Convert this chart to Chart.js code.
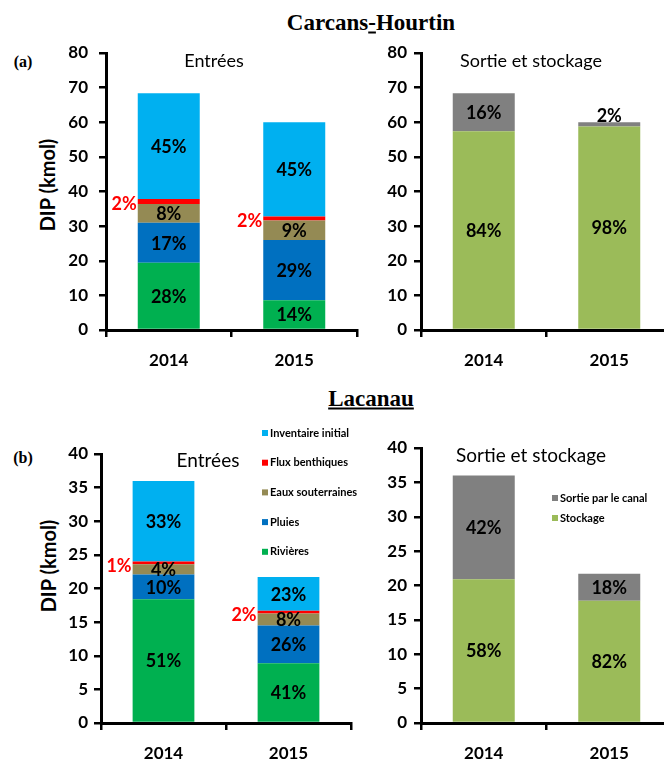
<!DOCTYPE html>
<html lang="fr">
<head>
<meta charset="utf-8">
<title>DIP - Carcans-Hourtin et Lacanau</title>
<script src="https://cdn.jsdelivr.net/npm/chart.js@4.4.1/dist/chart.umd.min.js"></script>
<style>
  html, body { margin: 0; padding: 0; background: #fff; overflow: hidden; }
  #page { position: relative; width: 664px; height: 760px; overflow: hidden; }
  canvas { position: absolute; }
  .lbl { position: absolute; transform: translate(-50%, -50%); white-space: nowrap; color: #000; line-height: 1; }
  .site { font-family: "Liberation Serif", "DejaVu Serif", serif; font-weight: bold; font-size: 23px; }
  .tag { font-family: "Liberation Serif", serif; font-weight: bold; font-size: 16px; }
  .ptitle { font-family: Lato, sans-serif; font-size: 18px; }
  .ytitle { font-family: Lato, sans-serif; font-weight: bold; font-size: 20px;
            transform: translate(-50%, -50%) rotate(-90deg); }
</style>
</head>
<body>
<div id="page">
  <div class="lbl site" style="left:371px; top:22px;">Carcans<u>-</u>Hourtin</div>
  <div class="lbl site" style="left:371px; top:398px;"><u>Lacanau</u></div>
  <div class="lbl tag" style="left:23px; top:62px;">(a)</div>
  <div class="lbl tag" style="left:23px; top:458px;">(b)</div>
  <div class="lbl ytitle" style="left:47px; top:185px;">DIP (kmol)</div>
  <div class="lbl ytitle" style="left:48px; top:566px;">DIP (kmol)</div>

  <canvas id="chIn" width="380" height="350" style="left:0; top:30px;"></canvas>
  <canvas id="chOut" width="370" height="350" style="left:330px; top:30px;"></canvas>
  <canvas id="lcIn" width="380" height="350" style="left:0; top:420px;"></canvas>
  <canvas id="lcOut" width="370" height="350" style="left:330px; top:420px;"></canvas>

  <div class="lbl ptitle" style="left:214px; top:60px;">Entrées</div>
  <div class="lbl ptitle" style="left:531px; top:60px;">Sortie et stockage</div>
  <div class="lbl ptitle" style="left:208px; top:459px; font-size:19px;">Entrées</div>
  <div class="lbl ptitle" style="left:531px; top:454px; font-size:19px;">Sortie et stockage</div>
</div>

<script>
var years = ['2014', '2015'];

// Carcans-Hourtin, entrées (kmol)
var chRivieres = [19.4, 8.6];
var chPluies = [11.6, 17.4];
var chEaux = [5.4, 5.6];
var chFlux = [1.4, 1.2];
var chInventaire = [30.6, 27.2];
// Carcans-Hourtin, sortie et stockage (kmol)
var chStockage = [57.4, 58.8];
var chSortie = [11.0, 1.2];

// Lacanau, entrées (kmol)
var lcRivieres = [18.4, 8.9];
var lcPluies = [3.7, 5.6];
var lcEaux = [1.5, 1.8];
var lcFlux = [0.4, 0.4];
var lcInventaire = [12.0, 5.0];
// Lacanau, sortie et stockage (kmol)
var lcStockage = [20.9, 17.8];
var lcSortie = [15.1, 3.9];

// y axis range / step
var chMax = 80, chStep = 10;
var lcMax = 40, lcStep = 5;

var COLORS = {
    rivieres: '#00b050',
    pluies: '#0070c0',
    eaux: '#948a54',
    flux: '#ff0000',
    inventaire: '#00b0f0',
    stockage: '#9bbb59',
    sortie: '#808080'
};

var FONT = 'Lato, "Open Sans", sans-serif';

// percentage of the column total, written in each segment
var percentLabels = {
    id: 'percentLabels',
    afterDatasetsDraw: function (chart) {
        var ctx = chart.ctx;
        var ds = chart.data.datasets;
        var totals = chart.data.labels.map(function (_, j) {
            return ds.reduce(function (s, d) { return s + d.data[j]; }, 0);
        });
        ctx.save();
        ctx.font = 'bold 18px ' + FONT;
        ds.forEach(function (d, i) {
            chart.getDatasetMeta(i).data.forEach(function (bar, j) {
                var txt = Math.round(d.data[j] / totals[j] * 100) + '%';
                var h = bar.base - bar.y;
                var x = bar.x, y = (bar.y + bar.base) / 2;
                ctx.fillStyle = '#000';
                ctx.textAlign = 'center';
                ctx.textBaseline = 'middle';
                if (d.labelOutside === 'left') {
                    ctx.fillStyle = d.backgroundColor;
                    ctx.textAlign = 'right';
                    x = bar.x - bar.width / 2 - 1;
                    y += 2;
                } else if (d.labelOutside === 'above' && h < 10) {
                    ctx.textBaseline = 'bottom';
                    y = bar.y + 2;
                }
                ctx.fillText(txt, x, y + 1);
            });
        });
        ctx.restore();
    }
};

// small vertical legend, top item = top of the stack
var sideLegend = {
    id: 'sideLegend',
    afterDraw: function (chart, args, opts) {
        var ctx = chart.ctx;
        var ds = chart.data.datasets.slice().reverse();
        ctx.save();
        ctx.font = 'bold 11px ' + FONT;
        ctx.textAlign = 'left';
        ctx.textBaseline = 'middle';
        ds.forEach(function (d, k) {
            var y = opts.y + k * opts.gap;
            ctx.fillStyle = d.backgroundColor;
            ctx.fillRect(opts.x, y - 3, 6, 6);
            ctx.fillStyle = '#000';
            ctx.fillText(d.label, opts.x + 8, y);
        });
        ctx.restore();
    }
};

function dataset(label, data, color, outside) {
    return {
        label: label,
        data: data,
        backgroundColor: color,
        borderWidth: 0,
        labelOutside: outside || null
    };
}

function makePanel(id, datasets, yMax, yStep, geo) {
    var tickFont = { family: FONT, size: 17, weight: 'bold' };
    return new Chart(document.getElementById(id), {
        type: 'bar',
        data: { labels: years, datasets: datasets },
        options: {
            responsive: false,
            animation: false,
            layout: { padding: geo.pad },
            datasets: { bar: { barPercentage: 0.494, categoryPercentage: 1 } },
            plugins: {
                legend: { display: false },
                tooltip: { enabled: false },
                sideLegend: geo.legend || false
            },
            scales: {
                x: {
                    stacked: true,
                    grid: { drawOnChartArea: false, tickLength: 7, color: '#000', lineWidth: 2.5 },
                    border: { color: '#000', width: 3 },
                    ticks: { color: '#000', font: tickFont, padding: 13 },
                    afterFit: function (s) { s.height = 40; }
                },
                y: {
                    stacked: true,
                    min: 0,
                    max: yMax,
                    grid: { drawOnChartArea: false, tickLength: 7, color: '#000', lineWidth: 2.5 },
                    border: { color: '#000', width: 3 },
                    ticks: { color: '#000', font: tickFont, stepSize: yStep, padding: geo.tickPad },
                    afterFit: function (s) { s.width = 50; }
                }
            }
        },
        plugins: [percentLabels, sideLegend]
    });
}

function inputs(riv, plu, eaux, flux, inv) {
    return [
        dataset('Rivières', riv, COLORS.rivieres),
        dataset('Pluies', plu, COLORS.pluies),
        dataset('Eaux souterraines', eaux, COLORS.eaux),
        dataset('Flux benthiques', flux, COLORS.flux, 'left'),
        dataset('Inventaire initial', inv, COLORS.inventaire)
    ];
}

function outputs(stock, sortie) {
    return [
        dataset('Stockage', stock, COLORS.stockage),
        dataset('Sortie par le canal', sortie, COLORS.sortie, 'above')
    ];
}

makePanel('chIn', inputs(chRivieres, chPluies, chEaux, chFlux, chInventaire), chMax, chStep,
    { pad: { left: 56, top: 23, right: 23, bottom: 10 }, tickPad: 11 });
makePanel('chOut', outputs(chStockage, chSortie), chMax, chStep,
    { pad: { left: 41, top: 23, right: 28, bottom: 10 }, tickPad: 7 });
makePanel('lcIn', inputs(lcRivieres, lcPluies, lcEaux, lcFlux, lcInventaire), lcMax, lcStep,
    { pad: { left: 51, top: 34, right: 29, bottom: 7 }, tickPad: 6, legend: { x: 262, y: 13, gap: 29.7 } });
makePanel('lcOut', outputs(lcStockage, lcSortie), lcMax, lcStep,
    { pad: { left: 41, top: 28, right: 28, bottom: 7 }, tickPad: 7, legend: { x: 222, y: 78, gap: 20 } });
</script>
</body>
</html>
